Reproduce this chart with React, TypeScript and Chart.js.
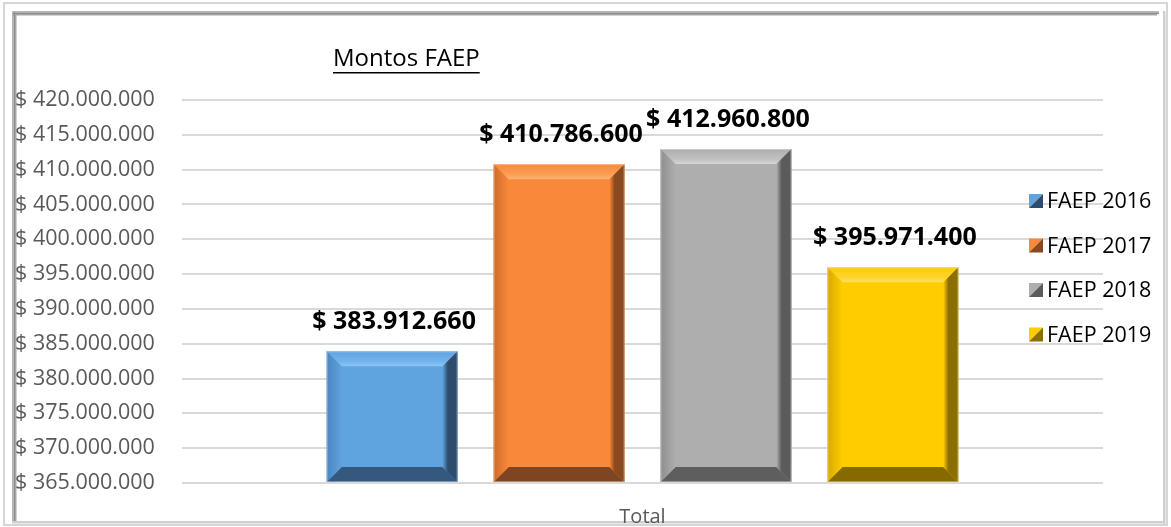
import React, { useEffect, useRef } from "react";
import { Chart, registerables } from "chart.js";

Chart.register(...registerables);

const categories = ["Total"];
const seriesNames = ["FAEP 2016", "FAEP 2017", "FAEP 2018", "FAEP 2019"];
const seriesValues = [383912660, 410786600, 412960800, 395971400];
const yMin = 365000000;
const yMax = 420000000;
const yStep = 5000000;
const chartTitle = "Montos FAEP";

const palette = [
  { face: "#5FA3DF", top: "#74B5EE", hi: "#8CC6F6", left: "#4B86BE", right: "#2E4D6C", bottom: "#34587E" },
  { face: "#FA883A", top: "#FD9E57", hi: "#FFB074", left: "#CC6C2A", right: "#8A491E", bottom: "#7E4522" },
  { face: "#AEAEAE", top: "#C2C2C2", hi: "#D6D6D6", left: "#8E8E8E", right: "#5B5B5B", bottom: "#5E5E5E" },
  { face: "#FFCC00", top: "#FFD530", hi: "#FFDF5C", left: "#D6AA00", right: "#8A6E00", bottom: "#856A00" },
];

const FONT = "'Open Sans', 'Noto Sans', sans-serif";

function fmtMoney(v: number): string {
  const s = Math.round(v).toString();
  return "$ " + s.replace(/\B(?=(\d{3})+(?!\d))/g, ".");
}

const framePlugin = {
  id: "frame",
  beforeDraw(chart: any) {
    const ctx = chart.ctx;
    const W = chart.width;
    const H = chart.height;
    ctx.save();
    ctx.fillStyle = "#ffffff";
    ctx.fillRect(0, 0, W, H);
    ctx.strokeStyle = "#d6d6d6";
    ctx.lineWidth = 2;
    ctx.strokeRect(4, 3, W - 8, H - 5);
    const band = (x: number, y: number, w: number, h: number, c: string) => {
      ctx.fillStyle = c;
      ctx.fillRect(x, y, w, h);
    };
    band(12, 11, W - 24, 1.5, "#b5b5b5");
    band(12, 12.5, W - 24, 1.5, "#8c8c8c");
    band(12, 14, W - 26, 1.5, "#a6a6a6");
    band(12, 11, 1.5, H - 16, "#b5b5b5");
    band(13.5, 12.5, 1.5, H - 18, "#8c8c8c");
    band(15, 14, 1.5, H - 20, "#a6a6a6");
    band(W - 8, 11, 2.5, H - 14, "#cfcfcf");
    band(12, H - 6, W - 18, 2.5, "#cfcfcf");
    ctx.restore();
  },
};

const bevelPlugin = {
  id: "bevel",
  afterDatasetsDraw(chart: any) {
    const ctx = chart.ctx;
    chart.data.datasets.forEach((ds: any, i: number) => {
      const meta = chart.getDatasetMeta(i);
      const col = palette[i];
      meta.data.forEach((bar: any) => {
        const p = bar.getProps(["x", "y", "base", "width"], true);
        const L = p.x - p.width / 2;
        const R = p.x + p.width / 2;
        const T = Math.min(p.y, p.base);
        const B = Math.max(p.y, p.base);
        const b = Math.min(15, (B - T) / 2);
        const poly = (pts: number[][], fill: any) => {
          ctx.beginPath();
          ctx.moveTo(pts[0][0], pts[0][1]);
          for (let k = 1; k < pts.length; k++) ctx.lineTo(pts[k][0], pts[k][1]);
          ctx.closePath();
          ctx.fillStyle = fill;
          ctx.fill();
        };
        ctx.save();
        let g = ctx.createLinearGradient(0, T, 0, T + b);
        g.addColorStop(0, col.face);
        g.addColorStop(0.7, col.top);
        g.addColorStop(1, col.hi);
        poly([[L, T], [R, T], [R - b, T + b], [L + b, T + b]], g);
        poly([[L, B], [R, B], [R - b, B - b], [L + b, B - b]], col.bottom);
        g = ctx.createLinearGradient(L, 0, L + b, 0);
        g.addColorStop(0, col.left);
        g.addColorStop(1, col.face);
        poly([[L, T], [L + b, T + b], [L + b, B - b], [L, B]], g);
        g = ctx.createLinearGradient(R - b, 0, R, 0);
        g.addColorStop(0, col.face);
        g.addColorStop(0.35, col.right);
        g.addColorStop(1, col.right);
        poly([[R, T], [R - b, T + b], [R - b, B - b], [R, B]], g);
        ctx.strokeStyle = "rgba(255,255,255,0.35)";
        ctx.lineWidth = 1;
        ctx.strokeRect(L + 0.5, T + 0.5, R - L - 1, B - T - 1);
        ctx.restore();

        ctx.save();
        ctx.font = `bold 25px ${FONT}`;
        ctx.fillStyle = "#000000";
        ctx.textAlign = "center";
        ctx.textBaseline = "middle";
        ctx.fillText(fmtMoney(ds.data[0]), p.x + 2, T - 29);
        ctx.restore();
      });
    });
  },
  afterDraw(chart: any) {
    const ctx = chart.ctx;
    const area = chart.chartArea;
    ctx.save();
    ctx.font = `24px ${FONT}`;
    ctx.fillStyle = "#000000";
    ctx.textAlign = "left";
    ctx.textBaseline = "middle";
    const tx = area.left + 151;
    const ty = area.top - 41;
    ctx.fillText(chartTitle, tx, ty);
    const tw = ctx.measureText(chartTitle).width;
    ctx.fillRect(tx, ty + 13, tw, 1.5);
    ctx.font = `21.5px ${FONT}`;
    chart.data.datasets.forEach((ds: any, i: number) => {
      const col = palette[i];
      const mx = area.right - 74;
      const cy = area.top + 101 + i * 44.5;
      const s = 14;
      const my = cy - s / 2;
      ctx.beginPath();
      ctx.moveTo(mx, my);
      ctx.lineTo(mx + s, my);
      ctx.lineTo(mx, my + s);
      ctx.closePath();
      ctx.fillStyle = col.face;
      ctx.fill();
      ctx.beginPath();
      ctx.moveTo(mx + s, my);
      ctx.lineTo(mx + s, my + s);
      ctx.lineTo(mx, my + s);
      ctx.closePath();
      ctx.fillStyle = col.right;
      ctx.fill();
      ctx.fillStyle = "#000000";
      ctx.textAlign = "left";
      ctx.fillText(ds.label, mx + 18, cy + 1);
    });
    ctx.restore();
  },
};

export default function App() {
  const ref = useRef<HTMLCanvasElement | null>(null);
  useEffect(() => {
    document.body.style.margin = "0";
    const canvas = ref.current;
    if (!canvas) return;
    const chart = new Chart(canvas, {
      type: "bar",
      data: {
        labels: categories,
        datasets: seriesNames.map((name, i) => ({
          label: name,
          data: [seriesValues[i]],
          backgroundColor: palette[i].face,
          borderWidth: 0,
          base: yMin,
          barPercentage: 0.784,
          categoryPercentage: 0.725,
        })),
      },
      options: {
        animation: false,
        responsive: false,
        maintainAspectRatio: false,
        layout: { padding: { left: 15, right: 68, top: 100, bottom: 0 } },
        plugins: {
          legend: { display: false },
          title: { display: false },
          tooltip: { enabled: false },
        },
        scales: {
          x: {
            grid: { display: false },
            border: { display: false },
            ticks: { color: "#595959", font: { family: FONT, size: 20 }, padding: 14 },
            afterFit(scale: any) {
              scale.height = 44;
            },
          },
          y: {
            min: yMin,
            max: yMax,
            grid: { color: "#d9d9d9", lineWidth: 2, drawTicks: false },
            border: { display: false },
            ticks: {
              stepSize: yStep,
              color: "#595959",
              font: { family: FONT, size: 21.5 },
              crossAlign: "far",
              padding: 0,
              callback: (v: any) => fmtMoney(Number(v)),
            },
            afterFit(scale: any) {
              scale.width = 167;
            },
          },
        },
      },
      plugins: [framePlugin, bevelPlugin],
    });
    return () => chart.destroy();
  }, []);
  return <canvas ref={ref} width={1171} height={527} style={{ display: "block" }} />;
}
